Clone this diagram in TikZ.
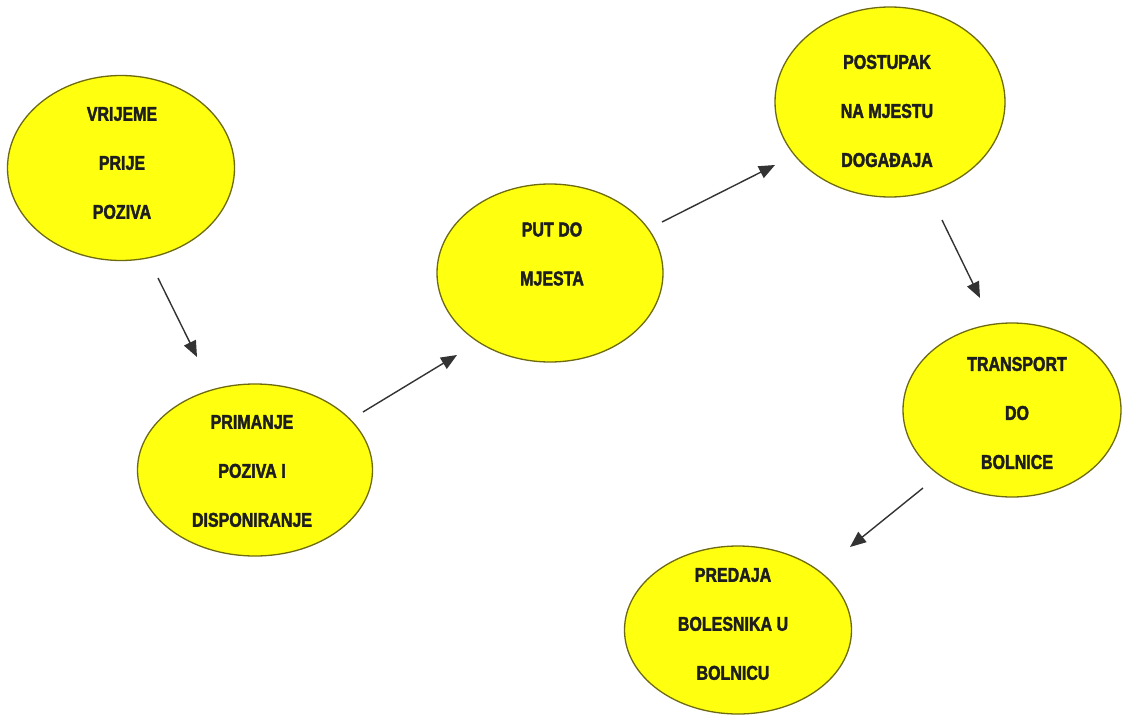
\documentclass[tikz,border=0pt]{standalone}
\usepackage{fontspec}
\newfontfamily\lblfont{Liberation Sans}[FakeStretch=0.8, UprightFeatures={FakeBold=2}, BoldFeatures={FakeBold=2}]
\usetikzlibrary{shapes.geometric,arrows.meta}
\definecolor{ylw}{HTML}{FFFF10}
\definecolor{rim}{HTML}{6E6A10}
\definecolor{ink}{HTML}{1E1E1E}
\definecolor{arr}{HTML}{333333}
\tikzset{
  blob/.style={ellipse, draw=rim, fill=ylw, line width=1.3pt, inner sep=0pt},
  lbl/.style={font=\lblfont\bfseries\fontsize{20}{49}\selectfont, text=ink, align=center, inner sep=0pt},
  flow/.style={draw=arr, line width=1.4pt, -{Triangle[length=16pt,width=13pt]}}
}
\begin{document}
\begin{tikzpicture}[x=1pt,y=-1pt]
\useasboundingbox[fill=white] (0,0) rectangle (1122,720);
\node[blob, minimum width=227pt, minimum height=185pt] (e1) at (121,168) {};
\node[blob, minimum width=235pt, minimum height=172pt] (e2) at (255,470) {};
\node[blob, minimum width=226pt, minimum height=178pt] (e3) at (550,273) {};
\node[blob, minimum width=230pt, minimum height=190pt] (e4) at (890,102) {};
\node[blob, minimum width=218pt, minimum height=174pt] (e5) at (1012,410) {};
\node[blob, minimum width=227pt, minimum height=168pt] (e6) at (738,630) {};
\node[lbl] (t1) at (122,163) {VRIJEME\\PRIJE\\POZIVA};
\node[lbl] (t2) at (252,471) {PRIMANJE\\POZIVA I\\DISPONIRANJE};
\node[lbl] (t3) at (552,254) {PUT DO\\MJESTA};
\node[lbl] (t4) at (887,111) {POSTUPAK\\NA MJESTU\\DOGAĐAJA};
\node[lbl] (t5) at (1017,413) {TRANSPORT\\DO\\BOLNICE};
\node[lbl] (t6) at (733,624) {PREDAJA\\BOLESNIKA U\\BOLNICU};
\coordinate (a1s) at (158,278); \coordinate (a1e) at (197,357);
\coordinate (a2s) at (363,412); \coordinate (a2e) at (457,355);
\coordinate (a3s) at (662,222); \coordinate (a3e) at (775,165);
\coordinate (a4s) at (942,220); \coordinate (a4e) at (980,298);
\coordinate (a5s) at (923,488); \coordinate (a5e) at (850,547);
\draw[flow] (a1s) -- (a1e);
\draw[flow] (a2s) -- (a2e);
\draw[flow] (a3s) -- (a3e);
\draw[flow] (a4s) -- (a4e);
\draw[flow] (a5s) -- (a5e);
\end{tikzpicture}
\end{document}
